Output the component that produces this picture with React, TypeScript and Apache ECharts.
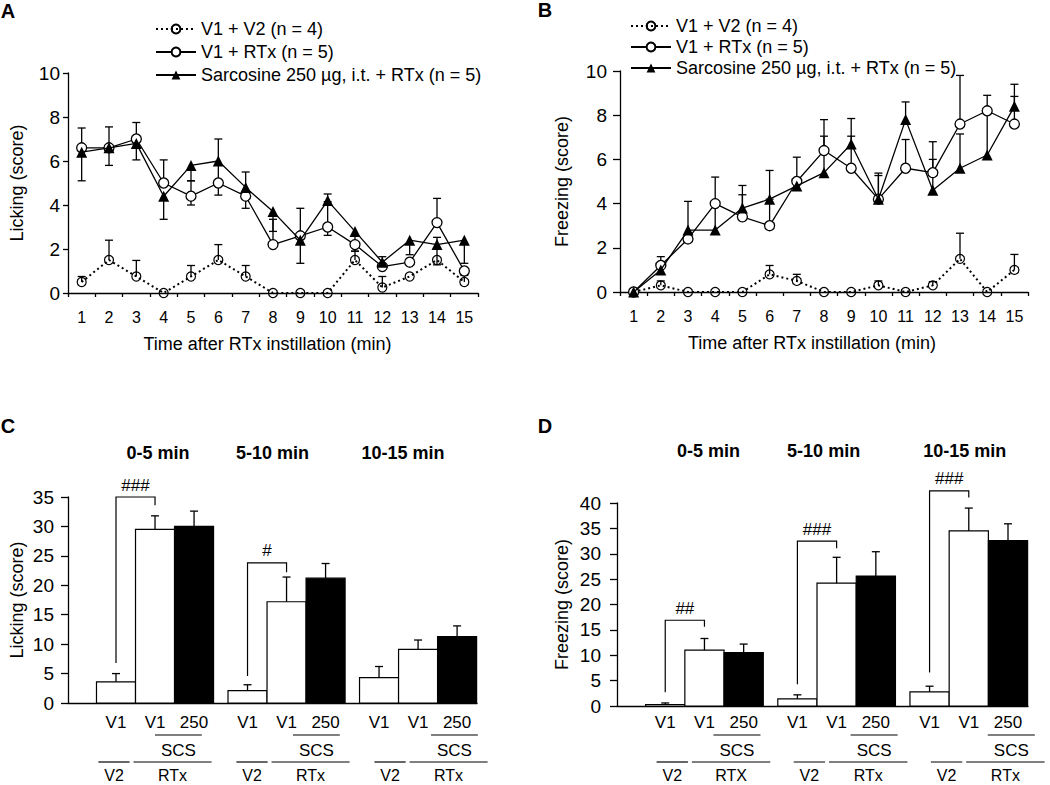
import React, { useEffect, useRef } from 'react';
import * as echarts from 'echarts';

const FONT = '"Liberation Sans", Arial, Helvetica, sans-serif';

// ---------------- Panels A & B : time course ----------------
const minutes = ['1', '2', '3', '4', '5', '6', '7', '8', '9', '10', '11', '12', '13', '14', '15'];
const groupNames = ['V1 + V2 (n = 4)', 'V1 + RTx (n = 5)', 'Sarcosine 250 \u00b5g, i.t. + RTx (n = 5)'];
const lineYLabels = ['Licking (score)', 'Freezing (score)'];
const timeAxisName = 'Time after RTx instillation (min)';

// A – licking
const lickV1V2 = [0.5, 1.5, 0.75, 0, 0.75, 1.5, 0.75, 0, 0, 0, 1.5, 0.25, 0.75, 1.5, 0.5];
const lickV1V2Up = [0.25, 0.9, 0.73, 0, 0.5, 0.7, 0.5, 0, 0, 0, 0.4, 0.5, 0, 0, 0.3];
const lickRTx = [6.6, 6.6, 7.0, 5.0, 4.4, 5.0, 4.4, 2.2, 2.6, 3.0, 2.2, 1.2, 1.4, 3.2, 1.0];
const lickRTxUp = [0.9, 0.95, 0.75, 1.05, 0.7, 0, 1.1, 1.15, 1.25, 1.15, 0, 0, 0, 1.1, 0];
const lickRTxDown = [0, 0, 0, 0, 0.4, 0.55, 0.55, 0, 0, 0.38, 0.3, 0, 0, 0, 0];
const lickSar = [6.4, 6.6, 6.8, 4.4, 5.8, 6.0, 4.8, 3.7, 2.4, 4.2, 2.8, 1.4, 2.4, 2.2, 2.4];
const lickSarUp = [0, 0, 0, 0, 0, 1.0, 0, 0, 0, 0.3, 0, 0.25, 0, 0.33, 0];
const lickSarDown = [1.3, 0.8, 0.75, 1.05, 0.7, 1.0, 0, 0.9, 1.05, 0, 0.6, 0, 0.66, 0.92, 1.05];

// B – freezing
const frzV1V2 = [0, 0.3, 0, 0, 0, 0.8, 0.5, 0, 0, 0.3, 0, 0.3, 1.5, 0, 1.0];
const frzV1V2Up = [0, 0.2, 0, 0, 0, 0.4, 0.3, 0, 0, 0.2, 0, 0.17, 1.16, 0, 0.7];
const frzRTx = [0, 1.2, 2.4, 4.0, 3.4, 3.0, 5.0, 6.4, 5.6, 4.2, 5.6, 5.4, 7.6, 8.2, 7.6];
const frzRTxUp = [0, 0.4, 0, 1.2, 1.0, 1.2, 1.1, 1.4, 1.45, 1.07, 1.3, 1.4, 2.2, 0.7, 1.25];
const frzSar = [0, 1.0, 2.8, 2.8, 3.8, 4.2, 4.8, 5.4, 6.7, 4.2, 7.8, 4.6, 5.6, 6.2, 8.4];
const frzSarUp = [0, 0, 1.3, 1.2, 1.02, 1.3, 0, 1.65, 1.15, 1.18, 0.8, 1.4, 1.55, 2.0, 1.0];
const zeros = minutes.map(() => 0);

// ---------------- Panels C & D : 5-min bins ----------------
const periods = ['0-5 min', '5-10 min', '10-15 min'];
const barLabels = ['V1', 'V1', '250'];
const scsLabel = 'SCS';
const v2Label = 'V2';
const rtxLabelsC = ['RTx', 'RTx', 'RTx'];
const rtxLabelsD = ['RTX', 'RTx', 'RTx'];

const lickBarV1V2 = [3.6, 2.1, 4.3];
const lickBarV1V2Err = [1.4, 1.0, 1.9];
const lickBarV1RTx = [29.5, 17.2, 9.1];
const lickBarV1RTxErr = [2.3, 4.2, 1.6];
const lickBarSar = [30.0, 21.2, 11.3];
const lickBarSarErr = [2.6, 2.5, 1.8];
const lickSig = [
  { g: 0, left: 6.8, top: 35.0, right: 33.6, mark: '###' },
  { g: 1, left: 4.6, top: 23.8, right: 22.2, mark: '#' },
];

const frzBarV1V2 = [0.3, 1.4, 2.8];
const frzBarV1V2Err = [0.3, 0.8, 1.1];
const frzBarV1RTx = [11.0, 24.2, 34.5];
const frzBarV1RTxErr = [2.3, 5.1, 4.5];
const frzBarSar = [10.5, 25.6, 32.6];
const frzBarSarErr = [1.7, 4.8, 3.3];
const frzSig = [
  { g: 0, left: 2.7, top: 16.9, right: 15.6, mark: '##' },
  { g: 1, left: 4.3, top: 32.5, right: 31.1, mark: '###' },
  { g: 2, left: 6.6, top: 42.4, right: 41.1, mark: '###' },
];

// layout constants (bar units along a hidden value axis)
const BAR_START = 0.73;
const GROUP_STRIDE = 3.37;
const X_MAX = 10.48;
const ROW = { ticks: 722, scsLine: 735, scs: 750, baseLine: 762, base: 775 };

const black = '#000';

function errRender(params: any, api: any) {
  const i = api.value(0);
  const v = api.value(1);
  const up = api.value(2);
  const dn = api.value(3);
  const p = api.coord([i, v]);
  const style = { stroke: black, lineWidth: 1.3, fill: 'none' };
  const children: any[] = [];
  const add = (end: number) => {
    const q = api.coord([i, end]);
    children.push({ type: 'line', shape: { x1: p[0], y1: p[1], x2: q[0], y2: q[1] }, style });
    children.push({ type: 'line', shape: { x1: q[0] - 4, y1: q[1], x2: q[0] + 4, y2: q[1] }, style });
  };
  if (up > 0) add(v + up);
  if (dn > 0) add(v - dn);
  return { type: 'group', children };
}

function barRender(params: any, api: any) {
  const c = api.value(0);
  const v = api.value(1);
  const e = api.value(2);
  const dark = api.value(3);
  const tl = api.coord([c - 0.5, v]);
  const br = api.coord([c + 0.5, 0]);
  const top = api.coord([c, v + e]);
  const style = { stroke: black, lineWidth: 1.3, fill: 'none' };
  return {
    type: 'group',
    children: [
      {
        type: 'rect',
        shape: { x: tl[0], y: tl[1], width: br[0] - tl[0], height: br[1] - tl[1] },
        style: { fill: dark ? black : '#fff', stroke: black, lineWidth: 1.2 },
      },
      { type: 'line', shape: { x1: top[0], y1: tl[1], x2: top[0], y2: top[1] }, style },
      { type: 'line', shape: { x1: top[0] - 4, y1: top[1], x2: top[0] + 4, y2: top[1] }, style },
    ],
  };
}

function txt(text: string, x: number, y: number, size: number, bold = false) {
  return {
    type: 'text',
    x,
    y,
    style: {
      text,
      fill: black,
      fontSize: size,
      fontFamily: FONT,
      fontWeight: bold ? 'bold' : 'normal',
      align: 'center',
      verticalAlign: 'middle',
    },
  };
}

function hline(x1: number, x2: number, y: number) {
  return { type: 'line', shape: { x1, y1: y, x2, y2: y }, style: { stroke: black, lineWidth: 1.2 } };
}

export default function App() {
  const ref = useRef<HTMLDivElement>(null);

  useEffect(() => {
    if (!ref.current) return;
    const chart = echarts.init(ref.current, undefined, { renderer: 'svg', width: 1050, height: 785 });

    const linePanels = [
      {
        idx: 0, v1v2: lickV1V2, v1v2Up: lickV1V2Up, rtx: lickRTx, rtxUp: lickRTxUp, rtxDown: lickRTxDown,
        sar: lickSar, sarUp: lickSarUp, sarDown: lickSarDown,
      },
      {
        idx: 1, v1v2: frzV1V2, v1v2Up: frzV1V2Up, rtx: frzRTx, rtxUp: frzRTxUp, rtxDown: zeros,
        sar: frzSar, sarUp: frzSarUp, sarDown: zeros,
      },
    ];

    const barPanels = [
      {
        idx: 2, v1v2: lickBarV1V2, v1v2Err: lickBarV1V2Err, rtx: lickBarV1RTx, rtxErr: lickBarV1RTxErr,
        sar: lickBarSar, sarErr: lickBarSarErr, sig: lickSig, rtxLabels: rtxLabelsC,
        headerY: 453, headerDx: [3, -14, -15], shift0: -2, drift: 6.5,
      },
      {
        idx: 3, v1v2: frzBarV1V2, v1v2Err: frzBarV1V2Err, rtx: frzBarV1RTx, rtxErr: frzBarV1RTxErr,
        sar: frzBarSar, sarErr: frzBarSarErr, sig: frzSig, rtxLabels: rtxLabelsD,
        headerY: 451, headerDx: [4, -13, -4], shift0: 7, drift: 5,
      },
    ];

    const series: any[] = [];

    linePanels.forEach((P) => {
      const errData: number[][] = [];
      minutes.forEach((_, i) => {
        errData.push([i, P.v1v2[i], P.v1v2Up[i], 0]);
        errData.push([i, P.rtx[i], P.rtxUp[i], P.rtxDown[i]]);
        errData.push([i, P.sar[i], P.sarUp[i], P.sarDown[i]]);
      });
      series.push({
        type: 'custom',
        xAxisIndex: P.idx,
        yAxisIndex: P.idx,
        data: errData,
        renderItem: errRender,
        clip: false,
        silent: true,
        z: 1,
      });
      series.push({
        type: 'line',
        name: groupNames[0],
        xAxisIndex: P.idx,
        yAxisIndex: P.idx,
        data: P.v1v2,
        symbol: 'circle',
        symbolSize: 9,
        itemStyle: { color: 'rgba(255,255,255,0)', borderColor: black, borderWidth: 1.2 },
        lineStyle: { color: black, width: 2, type: [2, 3] },
        silent: true,
        z: 3,
      });
      series.push({
        type: 'line',
        name: groupNames[1],
        xAxisIndex: P.idx,
        yAxisIndex: P.idx,
        data: P.rtx,
        symbol: 'circle',
        symbolSize: 10,
        itemStyle: { color: '#fff', borderColor: black, borderWidth: 1.3 },
        lineStyle: { color: black, width: 1.3 },
        silent: true,
        z: 3,
      });
      series.push({
        type: 'line',
        name: groupNames[2],
        xAxisIndex: P.idx,
        yAxisIndex: P.idx,
        data: P.sar,
        symbol: 'triangle',
        symbolSize: 11,
        itemStyle: { color: black },
        lineStyle: { color: black, width: 1.3 },
        silent: true,
        z: 4,
      });
    });

    barPanels.forEach((P) => {
      const barData: number[][] = [];
      const sets: [number[], number[], number][] = [
        [P.v1v2, P.v1v2Err, 0],
        [P.rtx, P.rtxErr, 0],
        [P.sar, P.sarErr, 1],
      ];
      periods.forEach((_, g) => {
        sets.forEach(([vals, errs, dark], b) => {
          barData.push([BAR_START + g * GROUP_STRIDE + b + 0.5, vals[g], errs[g], dark]);
        });
      });
      series.push({
        type: 'custom',
        xAxisIndex: P.idx,
        yAxisIndex: P.idx,
        data: barData,
        renderItem: barRender,
        clip: false,
        silent: true,
        z: 2,
      });
      series.push({
        type: 'custom',
        xAxisIndex: P.idx,
        yAxisIndex: P.idx,
        data: periods.map((_, g) => [BAR_START + g * GROUP_STRIDE + 1.5, 0]),
        clip: false,
        silent: true,
        z: 3,
        renderItem: (params: any, api: any) => {
          const g = params.dataIndex;
          const start = BAR_START + g * GROUP_STRIDE;
          const cx = (b: number) => api.coord([start + b + 0.5, 0])[0];
          const unit = api.size([1, 0])[0];
          const shift = P.shift0 + g * P.drift;
          const children: any[] = [];
          children.push(txt(periods[g], (cx(0) + cx(2)) / 2 + P.headerDx[g], P.headerY, 18, true));
          barLabels.forEach((l, b) => children.push(txt(l, cx(b), ROW.ticks, 17)));
          const scsC = cx(1) + 0.65 * unit + shift;
          children.push(hline(scsC - 0.6 * unit, scsC + 0.6 * unit, ROW.scsLine));
          children.push(txt(scsLabel, scsC, ROW.scs, 17));
          const v2C = cx(0) + shift;
          children.push(hline(v2C - 0.4 * unit, v2C + 0.4 * unit, ROW.baseLine));
          children.push(txt(v2Label, v2C, ROW.base, 16));
          const rtC = cx(1) + 0.5 * unit + shift;
          children.push(hline(rtC - unit, Math.min(rtC + unit, 1049), ROW.baseLine));
          children.push(txt(P.rtxLabels[g], rtC, ROW.base, 16));
          P.sig.filter((s) => s.g === g).forEach((s) => {
            const yT = api.coord([0, s.top])[1];
            const yL = api.coord([0, s.left])[1];
            const yR = api.coord([0, s.right])[1];
            const xl = cx(0);
            const xr = cx(1);
            children.push({
              type: 'polyline',
              shape: { points: [[xl, yL], [xl, yT], [xr, yT], [xr, yR]] },
              style: { stroke: black, lineWidth: 1.2, fill: 'none' },
            });
            children.push(txt(s.mark, (xl + xr) / 2, yT - 12, 17));
          });
          return { type: 'group', children };
        },
      });
    });

    const axisLine = { show: true, lineStyle: { color: black, width: 1.3 } };
    const nameStyle = { color: black, fontSize: 18, fontFamily: FONT };

    const grids = [
      { left: 68, top: 73, width: 410, height: 220 },
      { left: 620, top: 71, width: 408, height: 221 },
      { left: 68, top: 497, width: 409, height: 206 },
      { left: 617, top: 503, width: 411, height: 203 },
    ];

    const xAxis: any[] = [0, 1].map((i) => ({
      type: 'category',
      gridIndex: i,
      data: minutes,
      boundaryGap: true,
      axisLine,
      axisTick: { show: true, length: 4, lineStyle: { color: black, width: 1.3 } },
      axisLabel: { color: black, fontSize: 16, fontFamily: FONT, margin: 16 },
      splitLine: { show: false },
      name: timeAxisName,
      nameLocation: 'middle',
      nameGap: 42,
      nameTextStyle: { ...nameStyle, padding: i === 0 ? [0, 11, 0, 0] : [0, 24, 0, 0] },
    }));
    [2, 3].forEach((i) => {
      xAxis.push({
        type: 'value',
        gridIndex: i,
        min: 0,
        max: X_MAX,
        axisLine,
        axisTick: { show: false },
        axisLabel: { show: false },
        splitLine: { show: false },
      });
    });

    const yCfg = [
      { max: 10, interval: 2, margin: 8, tick: 5, gap: 42, name: lineYLabels[0] },
      { max: 10, interval: 2, margin: 13, tick: 7, gap: 49, name: lineYLabels[1] },
      { max: 35, interval: 5, margin: 14, tick: 7, gap: 42, name: lineYLabels[0] },
      { max: 40, interval: 5, margin: 16, tick: 7, gap: 46, name: lineYLabels[1] },
    ];
    const yAxis = yCfg.map((c, i) => ({
      type: 'value',
      gridIndex: i,
      min: 0,
      max: c.max,
      interval: c.interval,
      axisLine,
      axisTick: { show: true, length: c.tick, lineStyle: { color: black, width: 1.3 } },
      axisLabel: { color: black, fontSize: 19, fontFamily: FONT, margin: c.margin },
      splitLine: { show: false },
      name: c.name,
      nameLocation: 'middle',
      nameGap: c.gap,
      nameTextStyle: nameStyle,
    }));

    const legendBase = {
      orient: 'vertical',
      itemWidth: 40,
      itemHeight: 11,
      selectedMode: false,
      data: groupNames,
      textStyle: { color: black, fontSize: 18, fontFamily: FONT, lineHeight: 18 },
    };

    const letter = (t: string, x: number, y: number) => ({
      type: 'text',
      x,
      y,
      style: {
        text: t,
        fill: black,
        fontSize: 20,
        fontWeight: 'bold',
        fontFamily: FONT,
        align: 'center',
        verticalAlign: 'middle',
      },
    });

    chart.setOption({
      animation: false,
      backgroundColor: '#fff',
      textStyle: { fontFamily: FONT, color: black },
      grid: grids,
      xAxis,
      yAxis,
      legend: [
        { ...legendBase, left: 150, top: 15, itemGap: 5 },
        { ...legendBase, left: 625, top: 12, itemGap: 3 },
      ],
      series,
      graphic: [letter('A', 8, 11), letter('B', 545, 10), letter('C', 8, 426), letter('D', 545, 426)],
    });

    return () => chart.dispose();
  }, []);

  return (
    <div
      ref={ref}
      style={{ position: 'absolute', left: 0, top: 0, width: 1050, height: 785, background: '#fff' }}
    />
  );
}
